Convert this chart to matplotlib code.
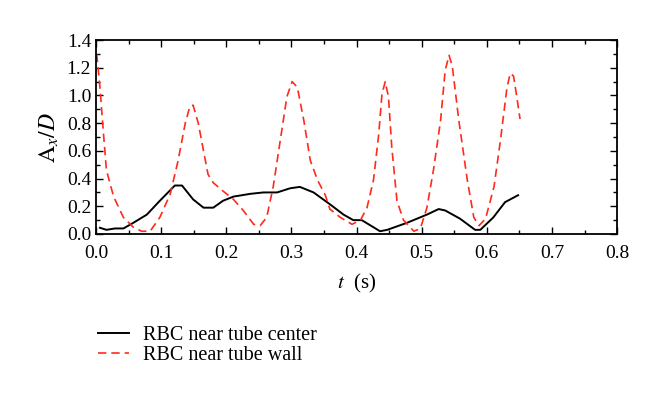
import matplotlib
matplotlib.use("Agg")
import matplotlib.pyplot as plt
from matplotlib.ticker import MultipleLocator

plt.rcParams['font.family'] = ['Liberation Serif', 'DejaVu Serif']
plt.rcParams['mathtext.fontset'] = 'stix'

# RBC near tube center (solid black)
t_center = [0.006, 0.016, 0.029, 0.042, 0.057, 0.078, 0.098, 0.121, 0.132, 0.149,
            0.165, 0.180, 0.195, 0.211, 0.237, 0.257, 0.278, 0.298, 0.313, 0.334,
            0.359, 0.380, 0.395, 0.408, 0.436, 0.447, 0.477, 0.508, 0.526, 0.536,
            0.559, 0.582, 0.590, 0.610, 0.628, 0.648]
a_center = [0.045, 0.03, 0.04, 0.04, 0.08, 0.14, 0.24, 0.35, 0.35, 0.25,
            0.19, 0.19, 0.24, 0.27, 0.29, 0.30, 0.30, 0.33, 0.34, 0.30,
            0.215, 0.14, 0.10, 0.10, 0.02, 0.03, 0.08, 0.14, 0.18, 0.17,
            0.11, 0.03, 0.03, 0.12, 0.23, 0.28]

# RBC near tube wall (dashed red)
t_wall = [0.001, 0.006, 0.011, 0.016, 0.027, 0.042, 0.057, 0.070, 0.083, 0.098,
          0.114, 0.126, 0.137, 0.144, 0.149, 0.157, 0.165, 0.172, 0.180, 0.195,
          0.211, 0.226, 0.242, 0.252, 0.262, 0.272, 0.283, 0.293, 0.301, 0.309,
          0.319, 0.329, 0.340, 0.352, 0.359, 0.375, 0.393, 0.406, 0.416, 0.426,
          0.434, 0.439, 0.444, 0.449, 0.454, 0.462, 0.472, 0.488, 0.498, 0.508,
          0.518, 0.529, 0.536, 0.542, 0.547, 0.557, 0.570, 0.580, 0.588, 0.598,
          0.611, 0.621, 0.631, 0.636, 0.641, 0.646, 0.651]
a_wall = [1.30, 1.06, 0.75, 0.46, 0.27, 0.12, 0.05, 0.02, 0.02, 0.12,
          0.29, 0.53, 0.80, 0.92, 0.93, 0.80, 0.60, 0.43, 0.37, 0.31,
          0.25, 0.17, 0.07, 0.06, 0.12, 0.34, 0.68, 0.99, 1.10, 1.06,
          0.82, 0.53, 0.39, 0.28, 0.18, 0.12, 0.07, 0.10, 0.19, 0.39,
          0.72, 1.01, 1.10, 0.99, 0.63, 0.24, 0.10, 0.02, 0.04, 0.19,
          0.46, 0.82, 1.18, 1.29, 1.21, 0.82, 0.39, 0.12, 0.06, 0.11,
          0.34, 0.68, 1.06, 1.16, 1.14, 0.99, 0.83]

labels = ["RBC near tube center", "RBC near tube wall"]

fig = plt.figure(figsize=(6.6, 3.95), dpi=100)
ax = fig.add_axes([0.1455, 0.4076, 0.7895, 0.491])

ax.plot(t_center, a_center, '-', color='black', lw=1.4, solid_joinstyle='round',
        label=labels[0])
ax.plot(t_wall, a_wall, '--', color='#ff2a1a', lw=1.2, dashes=(5, 3), label=labels[1])

ax.set_xlim(0, 0.8)
ax.set_ylim(0, 1.4)
ax.xaxis.set_major_locator(MultipleLocator(0.1))
ax.xaxis.set_minor_locator(MultipleLocator(0.05))
ax.yaxis.set_major_locator(MultipleLocator(0.2))
ax.yaxis.set_minor_locator(MultipleLocator(0.1))
ax.xaxis.set_major_formatter(plt.FuncFormatter(lambda v, p: f"{v:.1f}"))
ax.yaxis.set_major_formatter(plt.FuncFormatter(lambda v, p: f"{v:.1f}"))
ax.tick_params(which='both', direction='in', top=True, right=True, labelsize=14, width=1.0)
ax.tick_params(which='major', length=5)
ax.tick_params(which='minor', length=3)
ax.tick_params(axis='x', which='major', pad=8)
ax.tick_params(axis='y', which='major', pad=3.5)
for s in ax.spines.values():
    s.set_linewidth(1.3)

ax.set_xlabel(r"$t$  (s)", fontsize=15, labelpad=7)
ax.set_ylabel(r"$\mathrm{A}_x/D$", fontsize=17, labelpad=4)

fig.legend(loc='upper left', bbox_to_anchor=(0.121, 0.22), frameon=False,
           fontsize=14.5, handlelength=1.55, handletextpad=0.7, labelspacing=0.05)

fig.savefig("out.png", dpi=100)
